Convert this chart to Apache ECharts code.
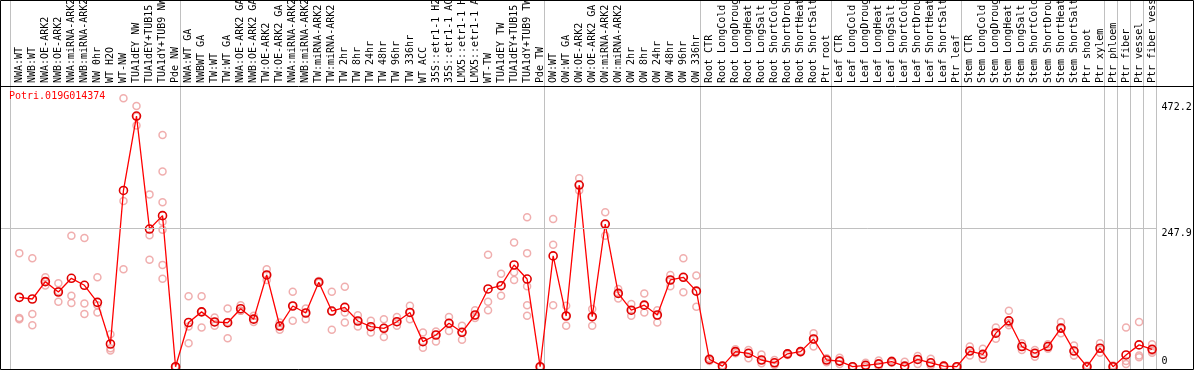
<!DOCTYPE html>
<html>
<head>
<meta charset="utf-8">
<script src="https://cdn.jsdelivr.net/npm/echarts@6/dist/echarts.min.js"></script>
<style>
html,body{margin:0;padding:0;background:#fff;}
#chart{width:1194px;height:370px;}
</style>
</head>
<body>
<div id="chart"></div>
<script>
const geneTitle = 'Potri.019G014374';

const categories = [
  'NWA:WT','NWB:WT','NWA:OE-ARK2','NWB:OE-ARK2','NWA:miRNA-ARK2','NWB:miRNA-ARK2','NW 0hr','WT H2O','WT-NW','TUA1dEY NW','TUA1dEY+TUB15 NW','TUA1dY+TUB9 NW','Pde NW',
  'NWA:WT GA','NWBWT GA','TW:WT','TW:WT GA','NWA:OE-ARK2 GA','NWB:OE-ARK2 GA','TW:OE-ARK2','TW:OE-ARK2 GA','NWA:miRNA-ARK2 GA','NWB:miRNA-ARK2 GA','TW:miRNA-ARK2','TW:miRNA-ARK2 GA',
  'TW 2hr','TW 8hr','TW 24hr','TW 48hr','TW 96hr','TW 336hr','WT ACC','35S::etr1-1 H2O','35S::etr1-1 ACC','LMX5::etr1-1 H2O','LMX5::etr1-1 ACC','WT-TW','TUA1dEY TW','TUA1dEY+TUB15 TW','TUA1dY+TUB9 TW','Pde TW',
  'OW:WT','OW:WT GA','OW:OE-ARK2','OW:OE-ARK2 GA','OW:miRNA-ARK2','OW:miRNA-ARK2 GA','OW 2hr','OW 8hr','OW 24hr','OW 48hr','OW 96hr','OW 336hr',
  'Root CTR','Root LongCold','Root LongDrought','Root LongHeat','Root LongSalt','Root ShortCold','Root ShortDrought','Root ShortHeat','Root ShortSalt','Ptr root',
  'Leaf CTR','Leaf LongCold','Leaf LongDrought','Leaf LongHeat','Leaf LongSalt','Leaf ShortCold','Leaf ShortDrought','Leaf ShortHeat','Leaf ShortSalt','Ptr leaf',
  'Stem CTR','Stem LongCold','Stem LongDrought','Stem LongHeat','Stem LongSalt','Stem ShortCold','Stem ShortDrought','Stem ShortHeat','Stem ShortSalt','Ptr shoot','Ptr xylem',
  'Ptr phloem','Ptr fiber','Ptr vessel','Ptr fiber vessel'
];

// number of categories in each separated group (left to right)
const groupSizes = [13, 28, 12, 10, 10, 11, 1, 1, 1, 1];

const meanValues = [
  124,121,152,133.5,158,145.5,115,40.6,315,448,246,270,0,
  79,98,80,78.6,103.7,85,164,72.7,108.5,96,151,99.5,106,81.7,71.5,68.6,80.4,97,44.7,56.7,77.6,61.5,92.4,139,144.8,181.8,156.7,0,
  198,90.6,324.7,89.4,255,131,101,110,92.4,155,159.8,135,
  13,1,27,24,12,7,23,27,49.5,12,
  10,0,2.5,5,9,1,13,7,1,0,
  28,22,60,82,36,24,36,69,28,0,33,
  0,21,39,31
];

const replicateValues = [
  [203,87,85],[194,94,74],[160,145,152],[149,116,135],[234,127,114],[230,113,94],[160,110,97],[58,33,29],[480,296,174],[466,431,447],[308,235,191],[414,349,294,259,245,182,157],[0,0,0],
  [126,72,42],[126,70,98],[88,73,80],[104,51,80],[110,100,100],[91,80,85],[174,155,164],[79,66,73],[134,82,109],[104,85,96],[153,150,150],[134,66,99],
  [143,97,79],[92,72,82],[82,61,72],[85,53,69],[89,73,80],[109,85,97],[61,34,45],[63,45,57],[89,64,78],[73,48,62],[101,87,92],[200,116,101],[166,127,145],[222,169,155],[267,203,144,110,91],[0,0,0],
  [264,218,110],[109,73,91],[337,315,325],[103,73,89],[276,234,255],[139,122,131],[112,91,101],[131,97,110],[101,79,92],[164,144,155],[194,133,160],[163,107,135],
  [15,10,13],[2,0,1],[31,24,27],[30,15,24],[22,6,12],[12,3,7],[24,21,23],[28,26,27],[60,36,50],[15,8,12],
  [16,5,10],[1,0,0],[7,0,2],[11,1,5],[11,7,9],[9,0,1],[19,5,13],[14,2,7],[2,0,1],[1,0,0],
  [36,20,28],[32,14,22],[70,50,60],[100,74,78],[42,30,36],[30,18,24],[40,32,36],[80,60,68],[38,20,28],[2,0,0],[42,25,33],
  [2,0,0],[70,10,5],[80,20,17],[40,25,28]
];

const yTickLabels = [247.9, 472.2];
const yZeroLabel = [0];
const yGridValues = [247.9];

// ---- build
const boundarySet = new Set();
let acc = 0;
groupSizes.forEach(n => { boundarySet.add(acc); acc += n; });

const repData = [];
replicateValues.forEach((arr, i) => arr.forEach(v => repData.push([i, v])));
const meanData = meanValues.map((v, i) => [i, v]);

const FONT = 'DejaVu Sans Mono';
const Y_MIN = -4.1, Y_MAX = 501.7;
const chart = echarts.init(document.getElementById('chart'), null, {renderer: 'canvas'});

const option = {
  animation: false,
  backgroundColor: '#ffffff',
  title: {
    text: geneTitle,
    left: 9, top: 91, padding: 0,
    textStyle: {color: '#ff0000', fontFamily: FONT, fontSize: 10, fontWeight: 'normal'}
  },
  grid: [
    {left: 12.8, right: 35.4, top: 86, bottom: 1, containLabel: false, outerBoundsMode: 'none'},
    {left: 10.5, right: 37.7, top: 0, bottom: 1, containLabel: false, outerBoundsMode: 'none'},
    {left: 0, right: 37.7, top: 86, bottom: 1, containLabel: false, outerBoundsMode: 'none'}
  ],
  xAxis: [
    {
      type: 'category', gridIndex: 0, data: categories, position: 'top', boundaryGap: true,
      axisLine: {show: false}, axisTick: {show: false}, splitLine: {show: false},
      axisLabel: {interval: 0, rotate: 90, margin: 3, align: 'left', verticalAlign: 'middle', color: '#000', fontFamily: FONT, fontSize: 10, hideOverlap: false}
    },
    {
      type: 'category', gridIndex: 1, data: categories, boundaryGap: true,
      axisLine: {show: false}, axisTick: {show: false}, axisLabel: {show: false},
      splitLine: {show: true, interval: (idx) => boundarySet.has(idx), lineStyle: {color: '#c0c0c0', width: 1}}
    },
    {type: 'value', gridIndex: 2, min: 0, max: 1, show: false}
  ],
  yAxis: [
    {
      type: 'value', gridIndex: 0, min: Y_MIN, max: Y_MAX, position: 'right',
      axisLine: {show: false}, axisTick: {show: false}, splitLine: {show: false},
      axisLabel: {customValues: yTickLabels, margin: 3, verticalAlign: 'top', color: '#000', fontFamily: FONT, fontSize: 10,
        formatter: v => String(v)}
    },
    {
      type: 'value', gridIndex: 0, min: Y_MIN, max: Y_MAX, position: 'right',
      axisLine: {show: false}, axisTick: {show: false}, splitLine: {show: false},
      axisLabel: {customValues: yZeroLabel, margin: 3, verticalAlign: 'bottom', color: '#000', fontFamily: FONT, fontSize: 10,
        formatter: v => String(v)}
    },
    {type: 'value', gridIndex: 1, min: 0, max: 1, show: false},
    {type: 'value', gridIndex: 2, min: Y_MIN, max: Y_MAX, show: false}
  ],
  graphic: [
    {type: 'rect', silent: true, z: 100, shape: {x: 0.5, y: 0.5, width: 1193, height: 369},
      style: {fill: 'none', stroke: '#000', lineWidth: 1}},
    {type: 'line', silent: true, z: 100, shape: {x1: 0, y1: 86.5, x2: 1194, y2: 86.5},
      style: {stroke: '#000', lineWidth: 1}}
  ],
  series: [
    {
      type: 'line', name: 'gridlines', xAxisIndex: 2, yAxisIndex: 3, data: [],
      silent: true, z: 1,
      markLine: {
        silent: true, symbol: 'none', animation: false,
        lineStyle: {color: '#c0c0c0', type: 'solid', width: 1},
        label: {show: false},
        data: yGridValues.map(v => ({yAxis: v}))
      }
    },
    {
      type: 'scatter', name: 'replicates', xAxisIndex: 0, yAxisIndex: 0,
      data: repData, symbol: 'circle', symbolSize: 7,
      itemStyle: {color: 'rgba(0,0,0,0)', borderColor: '#ec9a9a', borderWidth: 1.5},
      z: 2, silent: true
    },
    {
      type: 'line', name: 'mean', xAxisIndex: 0, yAxisIndex: 0,
      data: meanData, symbol: 'circle', symbolSize: 8, showSymbol: true,
      lineStyle: {color: '#ff0000', width: 1.3},
      itemStyle: {color: 'rgba(0,0,0,0)', borderColor: '#e00000', borderWidth: 1.6},
      z: 3, silent: true
    }
  ]
};
chart.setOption(option);
</script>
</body>
</html>
